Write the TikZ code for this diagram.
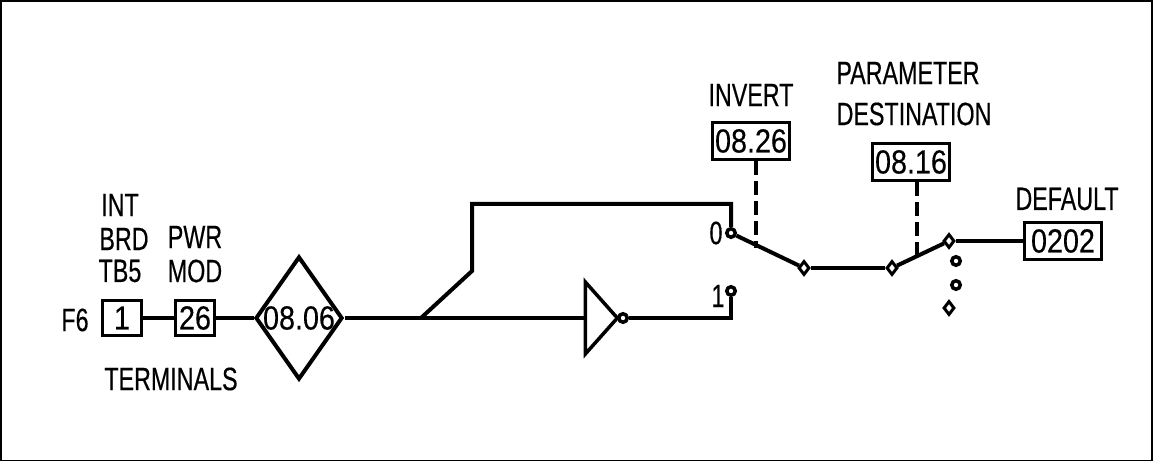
\documentclass[tikz,border=0pt]{standalone}
\usepackage{fontspec}
\setmainfont{Liberation Sans}[FakeStretch=0.72,FakeBold=0.4]
\newfontfamily\numfont{Liberation Sans}[FakeStretch=0.86,FakeBold=0.3]
\usetikzlibrary{shapes.geometric}
\begin{document}
\begin{tikzpicture}[
                node distance=1cm,
                label/.style={
                    inner sep=0pt,
                    font=\fontsize{18.4}{20}\selectfont
                },
                block/.style={
                    rectangle,
                    draw,
                    line width=0.07cm,
                    inner sep=0pt,
                    minimum width=1.54cm,
                    minimum height=0.74cm,
                    font=\numfont\fontsize{19}{20}\selectfont
                },
                terminal/.style={
                    block,
                    minimum width=0.78cm,
                    minimum height=0.7cm
                },
                contact/.style={
                    circle,
                    draw,
                    line width=0.07cm,
                    inner sep=0pt,
                    minimum size=0.17cm
                },
                pivot/.style={
                    diamond,
                    draw,
                    line width=0.06cm,
                    inner sep=0pt,
                    minimum width=0.22cm,
                    minimum height=0.28cm
                },
                line/.style={
                    draw,
                    line width=0.08cm
                },
                control/.style={
                    draw,
                    line width=0.07cm,
                    dash pattern=on 0.27cm off 0.13cm
                }]

                \useasboundingbox (0,0) rectangle (23.06,9.24);
                \draw [line width=0.025cm] (0.02,0.03) rectangle (23.04,9.22);

                % input side
                \node [diamond, draw, line width=0.08cm, inner sep=0pt, minimum width=1.74cm, minimum height=2.46cm, font=\numfont\fontsize{19}{20}\selectfont] (param_0806) at (5.98,2.88) {\makebox[0pt]{08.06}};
                \node [terminal, left of=param_0806, xshift=-1.08cm] (pwr_26) {26};
                \node [terminal, left of=pwr_26, xshift=-0.46cm, line width=0.05cm] (brd_1) {1};
                \node [label, left of=brd_1, xshift=0.06cm, yshift=-0.04cm] (f6) {F6};
                \node [label, above of=pwr_26, yshift=-0.06cm] (mod) {MOD};
                \node [label, above of=mod, yshift=-0.32cm] (pwr) {PWR};
                \node [label, above of=brd_1, yshift=-0.06cm, xshift=-0.04cm] (tb5) {TB5};
                \node [label, above of=tb5, yshift=-0.36cm, xshift=0.08cm] (brd) {BRD};
                \node [label, above of=brd, yshift=-0.32cm, xshift=-0.08cm] (int) {INT};
                \node [label, below of=brd_1, yshift=-0.22cm, xshift=0.98cm] (terminals) {TERMINALS};

                % inverter branch
                \node [isosceles triangle, isosceles triangle stretches, draw, line width=0.07cm, inner sep=0pt, minimum width=1.44cm, minimum height=0.64cm, right of=param_0806, xshift=5cm] (inverter) {};
                \node [contact, right of=inverter, xshift=-0.52cm] (bubble) {};
                \node [contact, right of=bubble, xshift=1.16cm, yshift=0.54cm] (contact_1) {};
                \node [contact, above of=contact_1, yshift=0.16cm] (contact_0) {};
                \node [label, left of=contact_0, xshift=0.7cm] (zero) {0};
                \node [label, left of=contact_1, xshift=0.74cm, yshift=-0.1cm] (one) {1};

                % switches
                \node [pivot, right of=contact_0, xshift=0.46cm, yshift=-0.7cm] (pivot_left) {};
                \node [pivot, right of=pivot_left, xshift=0.76cm] (pivot_right) {};
                \node [pivot, right of=pivot_right, xshift=0.14cm, yshift=0.54cm] (pivot_out) {};
                \node [contact, below of=pivot_out, xshift=0.14cm, yshift=0.6cm] (dot_a) {};
                \node [contact, below of=dot_a, yshift=0.52cm] (dot_b) {};
                \node [pivot, below of=dot_b, xshift=-0.14cm, yshift=0.54cm] (dot_c) {};

                % parameters
                \node [block, right of=pivot_out, xshift=1.28cm] (default) {0202};
                \node [label, above of=default, xshift=0.08cm, yshift=-0.16cm] (default_text) {DEFAULT};
                \node [block, right of=contact_0, xshift=-0.6cm, yshift=1.84cm] (invert) {08.26};
                \node [label, above of=invert, yshift=-0.08cm] (invert_text) {INVERT};
                \node [block, right of=invert, xshift=2.2cm, yshift=-0.42cm] (dest) {08.16};
                \node [label, above of=dest, xshift=0.06cm, yshift=-0.04cm] (dest_text) {DESTINATION};
                \node [label, above of=dest_text, xshift=-0.12cm, yshift=-0.18cm] (param_text) {PARAMETER};

                \coordinate (branch) at (8.42,2.88);
                \coordinate (bend) at (9.44,3.82);
                \coordinate (top) at (9.44,5.16);
                \coordinate (top_right) at (contact_0 |- top);
                \coordinate (low_right) at (contact_1 |- bubble);
                \coordinate (invert_foot) at (15.12,4.28);
                \coordinate (dest_foot) at (18.34,4.1);

                \draw [line] (brd_1) -- (pwr_26);
                \draw [line] (pwr_26) -- (param_0806);
                \draw [line] (param_0806) -- (inverter.west);
                \draw [line] (branch) -- (bend) -- (top) -- (top_right) -- (contact_0);
                \draw [line] (bubble) -- (low_right) -- (contact_1);
                \draw [line] (contact_0) -- (pivot_left);
                \draw [line] (pivot_left) -- (pivot_right);
                \draw [line] (pivot_right) -- (pivot_out);
                \draw [line] (pivot_out) -- (default);

                \draw [control] (invert.south -| invert_foot) -- (invert_foot);
                \draw [control] (dest.south -| dest_foot) -- (dest_foot);

            \end{tikzpicture}
\end{document}
